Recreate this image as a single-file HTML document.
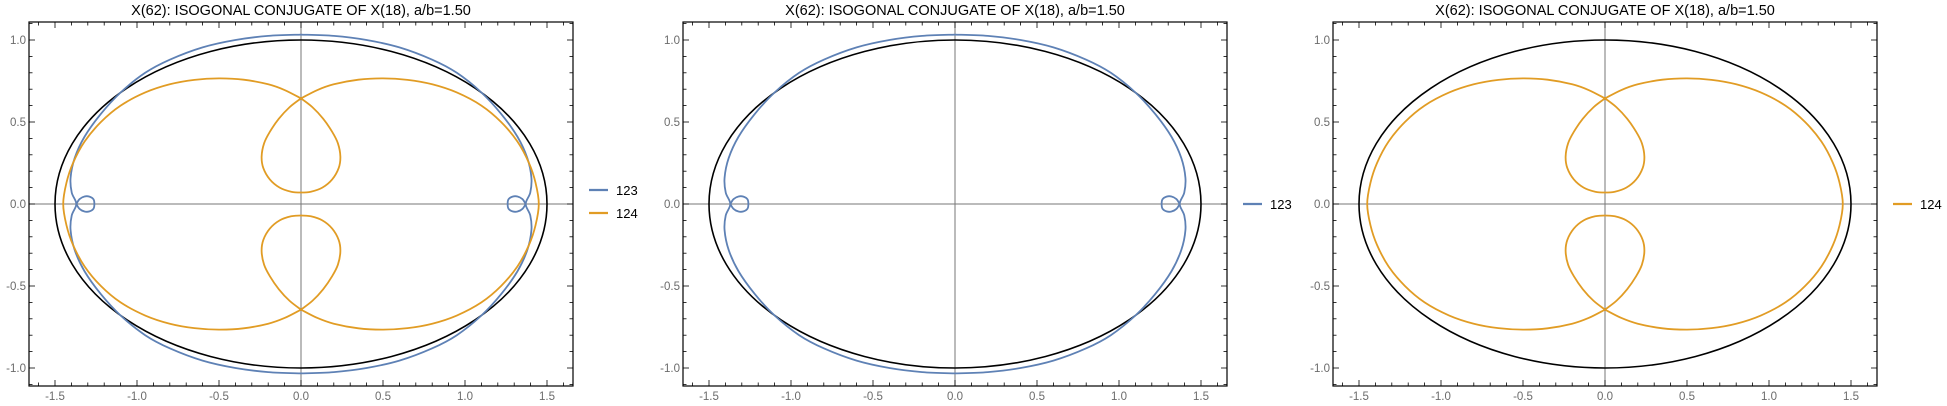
<!DOCTYPE html>
<html><head><meta charset="utf-8"><style>
html,body{margin:0;padding:0;background:#fff;}
svg{display:block;font-family:"Liberation Sans",sans-serif;}
</style></head><body>
<svg id="chart" width="1947" height="406" viewBox="0 0 1947 406"></svg>
<script>
// ---- data ----
const chartTitle = "X(62): ISOGONAL CONJUGATE OF X(18), a/b=1.50";
const xTicks = [-1.5, -1.0, -0.5, 0.0, 0.5, 1.0, 1.5];
const yTicks = [-1.0, -0.5, 0.0, 0.5, 1.0];
const ellipseAxes = [1.5, 1.0];
// series 123 (first quadrant, mirrored by symmetry)
const s123x = [0, 0.2, 0.4, 0.6, 0.8, 0.95, 1.1, 1.22, 1.32, 1.38, 1.405, 1.398, 1.37];
const s123y = [1.033, 1.025, 1.0, 0.955, 0.88, 0.8, 0.68, 0.55, 0.41, 0.28, 0.16, 0.07, 0];
const loop123x = [1.37, 1.35, 1.32, 1.29, 1.265, 1.26, 1.265, 1.29, 1.32, 1.35, 1.37];
const loop123y = [0, 0.03, 0.046, 0.045, 0.028, 0, -0.028, -0.045, -0.046, -0.03, 0];
// series 124 (first quadrant)
const lobe124x = [0, 0.1, 0.2, 0.35, 0.5, 0.65, 0.8, 0.95, 1.1, 1.22, 1.32, 1.39, 1.43, 1.45];
const lobe124y = [0.644, 0.695, 0.73, 0.758, 0.766, 0.757, 0.73, 0.68, 0.6, 0.5, 0.38, 0.25, 0.13, 0];
const inner124x = [0, 0.07, 0.135, 0.19, 0.225, 0.24, 0.23, 0.19, 0.13, 0.06, 0];
const inner124y = [0.644, 0.59, 0.52, 0.44, 0.37, 0.29, 0.22, 0.15, 0.1, 0.075, 0.07];
const panels = [
  {cx: 301, series: ["123", "124"]},
  {cx: 955, series: ["123"]},
  {cx: 1605, series: ["124"]}
];
const colors = {"123": "#5e81b5", "124": "#e19c24"};

const NS = "http://www.w3.org/2000/svg";
const svg = document.getElementById("chart");
function el(tag, attrs, parent){const e=document.createElementNS(NS,tag);for(const k in attrs)e.setAttribute(k,attrs[k]);(parent||svg).appendChild(e);return e;}
const unit = 164, cy = 204, half = 272;

function smoothPath(pts, sx, sy){
  let d = `M${sx(pts[0][0])},${sy(pts[0][1])}`;
  for (let i=0;i<pts.length-1;i++){
    const p0=pts[Math.max(0,i-1)], p1=pts[i], p2=pts[i+1], p3=pts[Math.min(pts.length-1,i+2)];
    const c1=[p1[0]+(p2[0]-p0[0])/6, p1[1]+(p2[1]-p0[1])/6];
    const c2=[p2[0]-(p3[0]-p1[0])/6, p2[1]-(p3[1]-p1[1])/6];
    d += ` C${sx(c1[0])},${sy(c1[1])} ${sx(c2[0])},${sy(c2[1])} ${sx(p2[0])},${sy(p2[1])}`;
  }
  return d;
}
function pts(xs, ys, fx, fy){ return xs.map((x,i)=>[x*fx, ys[i]*fy]); }
function mirrorJoin(xs, ys, fx, fy, mode){
  const a = pts(xs, ys, fx, fy);
  const b = mode === 'x' ? pts(xs, ys, fx, -fy) : pts(xs, ys, -fx, fy);
  return a.concat(b.reverse().slice(1));
}

panels.forEach((p, pi) => {
  const g = el("g", {});
  
  
  const sx = v => p.cx + v*unit;
  const sy = v => cy - v*unit;
  const L = p.cx - half, R = p.cx + half, T = 22, B = 386;

  const t = el("text", {x: p.cx, y: 15, "text-anchor":"middle", "font-size":"14.5", fill:"#000"}, g);
  t.textContent = chartTitle;
  
  

  const ax = el("line", {x1:L, x2:R, y1:sy(0), y2:sy(0), stroke:"#777", "stroke-width":1}, g);
  
  
  const ay = el("line", {x1:sx(0), x2:sx(0), y1:T, y2:B, stroke:"#777", "stroke-width":1}, g);
  
  

  const ell = el("ellipse", {cx:sx(0), cy:sy(0), rx:ellipseAxes[0]*unit, ry:ellipseAxes[1]*unit, fill:"none", stroke:"#000", "stroke-width":1.6}, g);
  
  

  p.series.forEach(s => {
    const paths = [];
    if (s === "123") {
      paths.push(mirrorJoin(s123x, s123y, 1, 1, 'x'));
      paths.push(mirrorJoin(s123x, s123y, -1, 1, 'x'));
      paths.push(pts(loop123x, loop123y, 1, 1));
      paths.push(pts(loop123x, loop123y, -1, 1));
    } else {
      paths.push(mirrorJoin(lobe124x, lobe124y, 1, 1, 'x'));
      paths.push(mirrorJoin(lobe124x, lobe124y, -1, 1, 'x'));
      paths.push(mirrorJoin(inner124x, inner124y, 1, 1, 'y'));
      paths.push(mirrorJoin(inner124x, inner124y, 1, -1, 'y'));
    }
    paths.forEach(pp => {
      const path = el("path", {d: smoothPath(pp,sx,sy), fill:"none", stroke:colors[s], "stroke-width":1.8, "stroke-linejoin":"round"}, g);
      
      
    });
  });

  const fr = el("rect", {x:L, y:T, width:R-L, height:B-T, fill:"none", stroke:"#000", "stroke-width":1.2}, g);
  
  

  for (let k=-16;k<=16;k++){
    const v=k/10, major = (k%5===0), len = major?6:3.5;
    const x = sx(v);
    el("line",{x1:x,x2:x,y1:B,y2:B-len,stroke:"#000","stroke-width":0.8},g);
    el("line",{x1:x,x2:x,y1:T,y2:T+len,stroke:"#000","stroke-width":0.8},g);
  }
  for (let k=-11;k<=11;k++){
    const v=k/10, major=(k%5===0), len = major?6:3.5;
    const y = sy(v);
    el("line",{x1:L,x2:L+len,y1:y,y2:y,stroke:"#000","stroke-width":0.8},g);
    el("line",{x1:R,x2:R-len,y1:y,y2:y,stroke:"#000","stroke-width":0.8},g);
  }
  xTicks.forEach(v => {
    const tl = el("text",{x:sx(v),y:B+14,"text-anchor":"middle","font-size":"11.5",fill:"#6b6b6b"},g);
    tl.textContent = v.toFixed(1);
    
    
  });
  yTicks.forEach(v => {
    const tl = el("text",{x:L-3,y:sy(v)+4,"text-anchor":"end","font-size":"11.5",fill:"#6b6b6b"},g);
    tl.textContent = v.toFixed(1);
    
    
  });

  const ly0 = p.series.length === 2 ? 190 : 204;
  p.series.forEach((s, i) => {
    const y = ly0 + i*23;
    const lg = el("g", {}, g);
    
    
    el("line",{x1:R+16,x2:R+35,y1:y,y2:y,stroke:colors[s],"stroke-width":2.2},lg);
    const lt = el("text",{x:R+43,y:y+5,"font-size":"13",fill:"#000"},lg);
    lt.textContent = s;
  });
});
</script>
</body></html>
